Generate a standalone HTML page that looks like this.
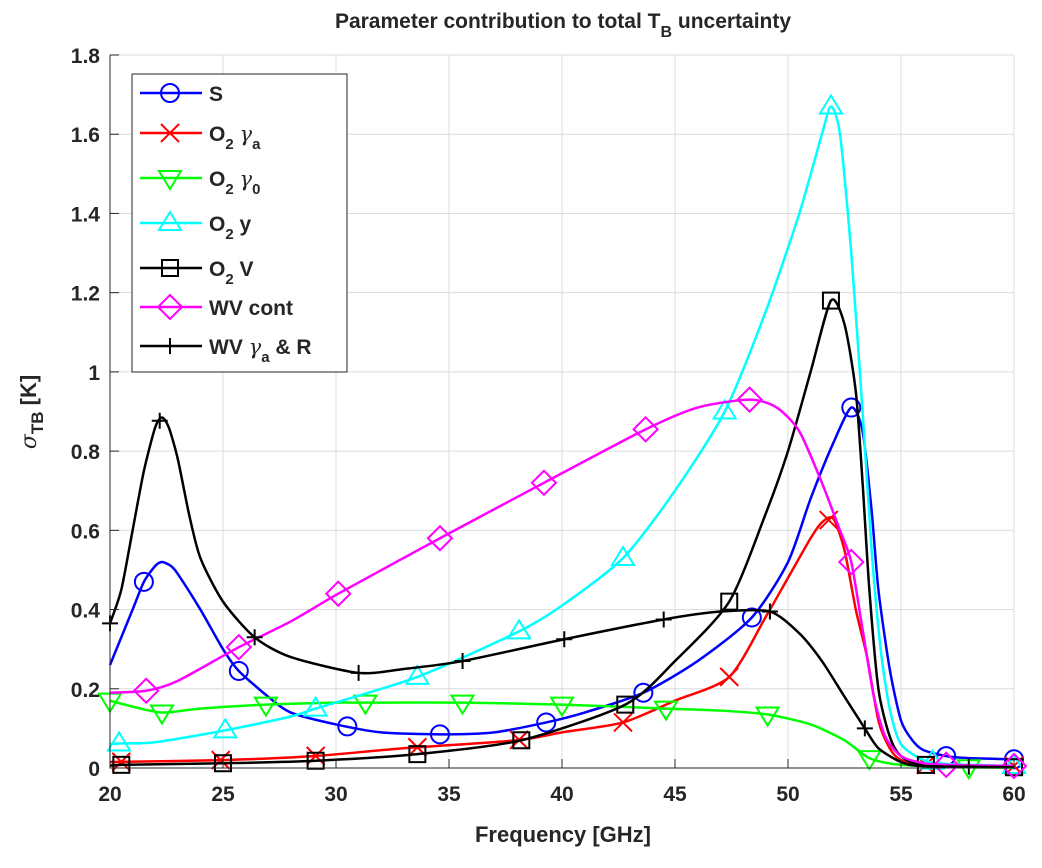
<!DOCTYPE html>
<html><head><meta charset="utf-8"><style>
body{margin:0;background:#fff;}
svg text{font-family:"Liberation Sans",Arial,sans-serif;font-weight:bold;fill:#262626;}
</style></head><body>
<svg id="chart" width="1042" height="863" viewBox="0 0 1042 863" xmlns="http://www.w3.org/2000/svg">
<rect width="1042" height="863" fill="#fff"/>
<g id="grid"></g>
<g id="series"></g>
<g id="axes"></g>
<text x="563" y="28" text-anchor="middle" font-size="21">Parameter contribution to total T<tspan font-size="16" dy="9">B</tspan><tspan dy="-9"> uncertainty</tspan></text>
<text x="563" y="842" text-anchor="middle" font-size="22">Frequency [GHz]</text>
<text transform="translate(36,412) rotate(-90)" text-anchor="middle" font-size="22"><tspan font-family="DejaVu Serif" font-style="italic" font-weight="normal">σ</tspan><tspan font-size="17" dy="7">TB</tspan><tspan dy="-7"> [K]</tspan></text>
<g id="legend"></g>
</svg>
<script>
const xTicks=[20,25,30,35,40,45,50,55,60];
const yTicks=[0,0.2,0.4,0.6,0.8,1,1.2,1.4,1.6,1.8];
const seriesNames=["S","O2 γa","O2 γ0","O2 y","O2 V","WV cont","WV γa & R"];
const sF=[20,21,21.5,22,22.3,22.7,23,24,25,25.7,27,28,30,32,34.6,37,39.3,41,43.6,46,48.4,50,51,52,52.8,53.3,53.7,54,54.5,55,55.5,56,57,58,60];
const sV=[0.26,0.40,0.47,0.51,0.52,0.51,0.49,0.40,0.30,0.245,0.18,0.14,0.11,0.09,0.085,0.09,0.115,0.14,0.19,0.27,0.38,0.52,0.68,0.82,0.91,0.85,0.65,0.45,0.25,0.12,0.07,0.045,0.03,0.025,0.022];
const sM=[21.5,25.7,30.5,34.6,39.3,43.6,48.4,52.8,57,60];
const gaF=[20,25,29,33,38,40,42.7,45,47.4,49,50,51,51.5,52,52.5,53,53.5,54,54.5,55,56,60];
const gaV=[0.015,0.02,0.03,0.05,0.07,0.09,0.115,0.17,0.23,0.38,0.48,0.58,0.62,0.63,0.55,0.40,0.28,0.12,0.05,0.02,0.008,0.005];
const gaM=[20.5,24.9,29.1,33.6,38.1,42.7,47.4,51.8,56.1,60];
const g0F=[20,21,22.3,24,26.9,30,31.3,35.6,40,44.6,47,49.1,51,52.5,53.6,55,58,60];
const g0V=[0.17,0.155,0.14,0.15,0.16,0.165,0.165,0.165,0.16,0.15,0.145,0.135,0.11,0.07,0.025,0.008,0.002,0.001];
const g0M=[20,22.3,26.9,31.3,35.6,40,44.6,49.1,53.6,58];
const yF=[20,20.4,22,25.1,28,29.1,33.6,38.1,40,42.7,45,47.2,49,50.5,51.5,51.9,52.3,52.8,53.3,53.7,54.1,54.5,55,56,57,60];
const yV=[0.06,0.062,0.065,0.095,0.13,0.15,0.23,0.345,0.41,0.53,0.7,0.90,1.15,1.4,1.6,1.67,1.6,1.3,0.9,0.55,0.3,0.15,0.06,0.02,0.01,0.005];
const yM=[20.4,25.1,29.1,33.6,38.1,42.7,47.2,51.9,56.4,60];
const vF=[20,20.5,25,29,33.6,38.2,42.8,45,47.4,49,50,51,51.9,52.5,53,53.3,53.6,54,54.5,55,56,60];
const vV=[0.005,0.008,0.012,0.018,0.035,0.07,0.16,0.27,0.42,0.64,0.8,1.0,1.18,1.12,0.95,0.72,0.45,0.2,0.08,0.03,0.008,0.002];
const vM=[20.5,25,29.1,33.6,38.2,42.8,47.4,51.9,56.1,60];
const cF=[20,21.6,23,25.7,28,30.1,34.6,39.2,43.7,46,48.3,49.5,50.5,51.5,52.3,52.8,53.3,53.8,54.3,55,56,57,60];
const cV=[0.19,0.195,0.22,0.305,0.37,0.44,0.58,0.72,0.855,0.91,0.93,0.91,0.85,0.72,0.6,0.52,0.35,0.18,0.08,0.03,0.012,0.008,0.005];
const cM=[21.6,25.7,30.1,34.6,39.2,43.7,48.3,52.8,57,60];
const wF=[20,20.5,21,21.5,22,22.3,22.6,23,23.5,24,25,26.4,28,31,33,35.6,40.1,44.5,47,49.2,50.5,51.5,52.5,53.4,54,55,56,60];
const wV=[0.365,0.45,0.60,0.75,0.86,0.885,0.86,0.78,0.64,0.53,0.42,0.33,0.28,0.24,0.25,0.27,0.325,0.375,0.395,0.395,0.34,0.27,0.18,0.1,0.05,0.015,0.005,0.002];
const wM=[20,22.2,26.4,31,35.6,40.1,44.5,49.2,53.4,58];

const NS="http://www.w3.org/2000/svg";
const X0=110,X1=1014,Y0=768,Y1=55;
function xs(f){return X0+(f-20)/40*(X1-X0);}
function ys(v){return Y0-v/1.8*(Y0-Y1);}
function mk(tag,attrs,parent){const e=document.createElementNS(NS,tag);for(const k in attrs)e.setAttribute(k,attrs[k]);parent.appendChild(e);return e;}
function interp(F,V,f){for(let i=0;i<F.length-1;i++){if(f>=F[i]&&f<=F[i+1]){const t=(f-F[i])/(F[i+1]-F[i]);return V[i]+t*(V[i+1]-V[i]);}}return V[V.length-1];}
function pathD(F,V){const p=F.map((f,i)=>[xs(f),ys(V[i])]);let d="M"+p[0][0]+","+p[0][1];
for(let i=0;i<p.length-1;i++){const a=p[Math.max(0,i-1)],b=p[i],c=p[i+1],e=p[Math.min(p.length-1,i+2)];
const k=8;const c1=[b[0]+(c[0]-a[0])/k,b[1]+(c[1]-a[1])/k],c2=[c[0]-(e[0]-b[0])/k,c[1]-(e[1]-b[1])/k];
d+=" C"+c1[0]+","+c1[1]+" "+c2[0]+","+c2[1]+" "+c[0]+","+c[1];}return d;}
function marker(type,x,y,color,g){
 const s={fill:"none",stroke:color,"stroke-width":2};let e;
 if(type==="o")e=mk("circle",Object.assign({cx:x,cy:y,r:9},s),g);
 else if(type==="x")e=mk("path",Object.assign({d:`M${x-9},${y-9}L${x+9},${y+9}M${x-9},${y+9}L${x+9},${y-9}`},s),g);
 else if(type==="v")e=mk("path",Object.assign({d:`M${x-11},${y-7}L${x+11},${y-7}L${x},${y+11}Z`},s),g);
 else if(type==="^")e=mk("path",Object.assign({d:`M${x-11},${y+7}L${x+11},${y+7}L${x},${y-11}Z`},s),g);
 else if(type==="s")e=mk("rect",Object.assign({x:x-8,y:y-8,width:16,height:16},s),g);
 else if(type==="d")e=mk("path",Object.assign({d:`M${x},${y-12}L${x+12},${y}L${x},${y+12}L${x-12},${y}Z`},s),g);
 else e=mk("path",Object.assign({d:`M${x-8},${y}L${x+8},${y}M${x},${y-8}L${x},${y+8}`},s),g);
 
 
}
const grid=document.getElementById('grid');
xTicks.forEach(t=>{const l=mk("line",{x1:xs(t),x2:xs(t),y1:Y1,y2:Y0,stroke:"#dcdcdc","stroke-width":1},grid);
});
yTicks.forEach(t=>{const l=mk("line",{x1:X0,x2:X1,y1:ys(t),y2:ys(t),stroke:"#dcdcdc","stroke-width":1},grid);
});
const axes=document.getElementById('axes');
const ax=mk("path",{d:`M${X0},${Y1}L${X0},${Y0}L${X1},${Y0}`,fill:"none",stroke:"#262626","stroke-width":1},axes);

xTicks.forEach(t=>{mk("line",{x1:xs(t),x2:xs(t),y1:Y0,y2:Y0-9,stroke:"#262626"},axes);
const tx=mk("text",{x:xs(t),y:Y0+33,"text-anchor":"middle","font-size":21},axes);tx.textContent=t;
});
yTicks.forEach(t=>{mk("line",{x1:X0,x2:X0+9,y1:ys(t),y2:ys(t),stroke:"#262626"},axes);
const tx=mk("text",{x:X0-10,y:ys(t)+8,"text-anchor":"end","font-size":21},axes);tx.textContent=(Math.round(t*10)/10).toString();
});
const defs=[[sF,sV,sM,"#0000ff","o","series-s"],[gaF,gaV,gaM,"#ff0000","x","series-o2-gamma-a"],[g0F,g0V,g0M,"#00ff00","v","series-o2-gamma-0"],[yF,yV,yM,"#00ffff","^","series-o2-y"],[vF,vV,vM,"#000000","s","series-o2-v"],[cF,cV,cM,"#ff00ff","d","series-wv-cont"],[wF,wV,wM,"#000000","+","series-wv-gamma-a-r"]];
const sg=document.getElementById('series');
defs.forEach(([F,V,M,col,m,name])=>{const g=mk("g",{},sg);
const p=mk("path",{d:pathD(F,V),fill:"none",stroke:col,"stroke-width":2.5,"stroke-linejoin":"round"},g);

M.forEach(f=>marker(m,xs(f),ys(interp(F,V,f)),col,g));});
const lg=document.getElementById('legend');
const box=mk("rect",{x:132,y:74,width:215,height:298,fill:"#fff",stroke:"#262626","stroke-width":1},lg);

const labels=['S','O<tspan font-size="15" dy="8">2</tspan><tspan dy="-8"> </tspan><tspan font-family="DejaVu Serif" font-style="italic" font-weight="normal">γ</tspan><tspan font-size="15" dy="8">a</tspan>',
'O<tspan font-size="15" dy="8">2</tspan><tspan dy="-8"> </tspan><tspan font-family="DejaVu Serif" font-style="italic" font-weight="normal">γ</tspan><tspan font-size="15" dy="8">0</tspan>',
'O<tspan font-size="15" dy="8">2</tspan><tspan dy="-8"> y</tspan>','O<tspan font-size="15" dy="8">2</tspan><tspan dy="-8"> V</tspan>','WV cont',
'WV <tspan font-family="DejaVu Serif" font-style="italic" font-weight="normal">γ</tspan><tspan font-size="15" dy="8">a</tspan><tspan dy="-8"> &amp; R</tspan>'];
const ly=[93,133,178,223,268,307,346];
defs.forEach((d,i)=>{const g=mk("g",{},lg);
mk("line",{x1:140,x2:202,y1:ly[i],y2:ly[i],stroke:d[3],"stroke-width":2.5},g);marker(d[4],170,ly[i],d[3],g);
const t=mk("text",{x:209,y:ly[i]+8,"font-size":21},g);t.innerHTML=labels[i];
});
</script>
</body></html>
